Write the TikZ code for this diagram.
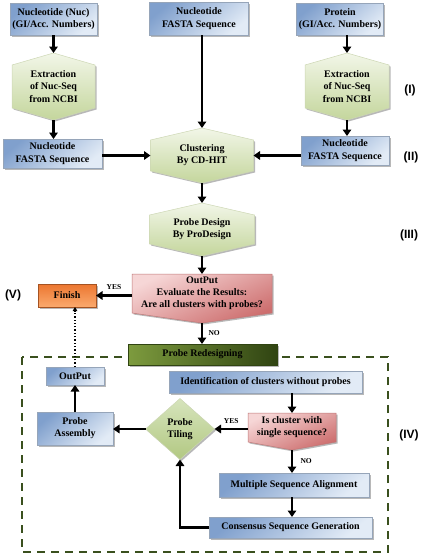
\documentclass[tikz,border=0pt]{standalone}
\usepackage{fontspec}
\setmainfont{Liberation Serif}
\newfontfamily\labfont{Liberation Sans}
\usetikzlibrary{arrows.meta,shapes.geometric,shadows}
\definecolor{blueD}{RGB}{128,160,205}
\definecolor{blueL}{RGB}{226,235,246}
\definecolor{blueB}{RGB}{150,165,185}
\definecolor{greenT}{RGB}{242,246,232}
\definecolor{greenB}{RGB}{196,214,156}
\definecolor{greenE}{RGB}{205,215,180}
\definecolor{pinkT}{RGB}{246,214,214}
\definecolor{pinkB}{RGB}{205,110,110}
\definecolor{pinkE}{RGB}{190,120,120}
\definecolor{orangeT}{RGB}{236,118,48}
\definecolor{orangeB}{RGB}{250,170,110}
\definecolor{redesL}{RGB}{125,155,62}
\definecolor{redesR}{RGB}{48,68,18}
\definecolor{diaT}{RGB}{214,228,188}
\definecolor{diaB}{RGB}{178,200,130}
\definecolor{frameC}{RGB}{58,80,30}
\newcommand\hexbox[7]{%
  \pgfmathsetmacro\hxl{#2-#4/2}\pgfmathsetmacro\hxr{#2+#4/2}%
  \pgfmathsetmacro\hyt{#3-#5/2}\pgfmathsetmacro\hyb{#3+#5/2}%
  \pgfmathsetmacro\hyta{#3-#5/2+#6}\pgfmathsetmacro\hyba{#3+#5/2-#6}%
  \fill[shadowfill, shift={(1.5,1.5)}] (\hxl,\hyta) -- (#2,\hyt) -- (\hxr,\hyta) -- (\hxr,\hyba) -- (#2,\hyb) -- (\hxl,\hyba) -- cycle;
  \path[hexfill] (\hxl,\hyta) -- (#2,\hyt) -- (\hxr,\hyta) -- (\hxr,\hyba) -- (#2,\hyb) -- (\hxl,\hyba) -- cycle;
  \node[plain, minimum width=#4pt, minimum height=#5pt] (#1) at (#2,#3) {#7};
}
\newcommand\pentbox[7]{%
  \pgfmathsetmacro\pbl{#2-#6/2}\pgfmathsetmacro\pbr{#2+#6/2}%
  \pgfmathsetmacro\pbm{(#3+#4)/2}\pgfmathsetmacro\pbh{#4-#3}%
  \fill[shadowfill, shift={(1.5,1.5)}] (\pbl,#3) -- (\pbr,#3) -- (\pbr,#4) -- (#2,#5) -- (\pbl,#4) -- cycle;
  \path[pentfill] (\pbl,#3) -- (\pbr,#3) -- (\pbr,#4) -- (#2,#5) -- (\pbl,#4) -- cycle;
  \node[plain, minimum width=#6pt, minimum height=\pbh pt] (#1) at (#2,\pbm) {#7};
  \coordinate (#1-tip) at (#2,#5);
}
\tikzset{
  shadowfill/.style={fill=black, opacity=0.28},
  shad/.style={drop shadow={shadow xshift=1.5pt, shadow yshift=-1.5pt, fill=black, opacity=0.28}},
  plain/.style={rectangle, inner sep=0pt, outer sep=0pt, align=center},
  bluebox/.style={plain, draw=blueB, line width=0.5pt, top color=blueD, bottom color=blueL, shading angle=40, shad},
  hexfill/.style={draw=greenE, line width=0.5pt, top color=greenT, bottom color=greenB},
  pentfill/.style={draw=pinkE, line width=0.5pt, top color=pinkT, bottom color=pinkB, shading angle=25},
  finishbox/.style={plain, draw=orangeT!70!black, line width=0.5pt, top color=orangeT, bottom color=orangeB, shad},
  redesbox/.style={plain, draw=redesR, line width=0.5pt, left color=redesL, right color=redesR, shad},
  tilebox/.style={diamond, inner sep=0pt, outer sep=0pt, align=center, draw=greenE, line width=0.5pt, top color=diaT, bottom color=diaB, shad},
  arr/.style={line width=2.4pt, -{Triangle[length=6.5pt,width=8.5pt]}},
  dotarr/.style={line width=1.3pt, dotted, -{Triangle[length=4pt,width=4.5pt]}},
  framebox/.style={draw=frameC, line width=2pt, dash pattern=on 8pt off 6pt},
  seclab/.style={font=\labfont\bfseries\fontsize{12}{14}\selectfont},
  yn/.style={font=\bfseries\fontsize{7.5}{8}\selectfont},
}
\begin{document}
\begin{tikzpicture}[x=1pt, y=-1pt, font=\bfseries\fontsize{10}{12.2}\selectfont]
\useasboundingbox (0,0) rectangle (425,555);
% top row
\node[bluebox, minimum width=87pt, minimum height=32pt] (nuc) at (53.5,19) {Nucleotide (Nuc)\\(GI/Acc. Numbers)};
\node[bluebox, minimum width=99pt, minimum height=33pt] (fastaT) at (199,18.5) {Nucleotide\\FASTA Sequence};
\node[bluebox, minimum width=87pt, minimum height=32pt] (prot) at (340,19) {Protein\\(GI/Acc. Numbers)};
% extraction
\hexbox{exL}{53.5}{86.5}{83}{67}{12}{Extraction\\of Nuc-Seq\\from NCBI}
\hexbox{exR}{347}{86.5}{84}{67}{12}{Extraction\\of Nuc-Seq\\from NCBI}
% second row
\node[bluebox, minimum width=99pt, minimum height=29pt] (fastaL) at (52.5,153.5) {Nucleotide\\FASTA Sequence};
\hexbox{clus}{202}{155.5}{103}{55}{12}{Clustering\\By CD-HIT}
\node[bluebox, minimum width=88pt, minimum height=29pt] (fastaR) at (345,150.5) {Nucleotide\\FASTA Sequence};
% probe design
\hexbox{pdes}{202}{229.5}{105}{53}{12}{Probe Design\\By ProDesign}
\pentbox{outp}{202}{274}{313}{323}{140}{OutPut\\Evaluate the Results:\\Are all clusters with probes?}
\node[finishbox, minimum width=58pt, minimum height=23pt] (finish) at (67,295.5) {Finish};
% redesign frame
\draw[framebox] (22,357) rectangle (388,552);
\node[redesbox, minimum width=149pt, minimum height=21pt] (redes) at (202.5,354.5) {Probe Redesigning};
\node[bluebox, minimum width=58pt, minimum height=18pt] (outIn) at (75,376) {OutPut};
\node[bluebox, minimum width=76pt, minimum height=33pt] (assem) at (75,428.5) {Probe\\Assembly};
\node[tilebox, minimum width=69pt, minimum height=61pt] (tile) at (180,429) {Probe\\Tiling};
\node[bluebox, minimum width=193pt, minimum height=22pt] (ident) at (265.5,382) {Identification of clusters without probes};
\pentbox{single}{292}{413}{442}{450}{88}{Is cluster with\\single sequence?}
\node[bluebox, minimum width=150pt, minimum height=24pt] (msa) at (294,485) {Multiple Sequence Alignment};
\node[bluebox, minimum width=163pt, minimum height=21pt] (cons) at (290.5,527.5) {Consensus Sequence Generation};
% section labels
\node[seclab] (lI) at (410,90) {(I)};
\node[seclab] (lII) at (411,157) {(II)};
\node[seclab] (lIII) at (409,235) {(III)};
\node[seclab] (lIV) at (409,435) {(IV)};
\node[seclab] (lV) at (13,295) {(V)};
% connectors
\draw[arr] (nuc.south -| exL.north) -- (exL.north);
\draw[arr] (fastaT.south -| clus.north) -- (clus.north);
\draw[arr] (prot.south -| exR.north) -- (exR.north);
\draw[arr] (exL.south) -- (exL.south |- fastaL.north);
\draw[arr] (exR.south) -- (exR.south |- fastaR.north);
\draw[arr] (fastaL.east |- clus.west) -- (clus.west);
\draw[arr] (fastaR.west |- clus.east) -- (clus.east);
\draw[arr] (clus.south) -- (pdes.north);
\draw[arr] (pdes.south) -- (outp.north);
\draw[arr] (outp.west |- finish.east) -- (finish.east) node[yn, midway, above=1pt] {YES};
\draw[arr] (outp-tip) -- (outp-tip |- redes.north) node[yn, midway, right=2pt] {NO};
\draw[dotarr] (outIn.north) -- (outIn.north |- finish.south);
\draw[arr] (assem.north) -- (assem.north |- outIn.south);
\draw[arr] (tile.west) -- (tile.west -| assem.east);
\draw[arr] (ident.south -| single.north) -- (single.north);
\draw[arr] (single.west |- tile.east) -- (tile.east) node[yn, midway, above=1pt] {YES};
\draw[arr] (single-tip) -- (single-tip |- msa.north) node[yn, midway, right=4pt] {NO};
\draw[arr] (msa.south -| single-tip) -- (single-tip |- cons.north);
\draw[arr] (cons.west) -| (tile.south);
\end{tikzpicture}
\end{document}
